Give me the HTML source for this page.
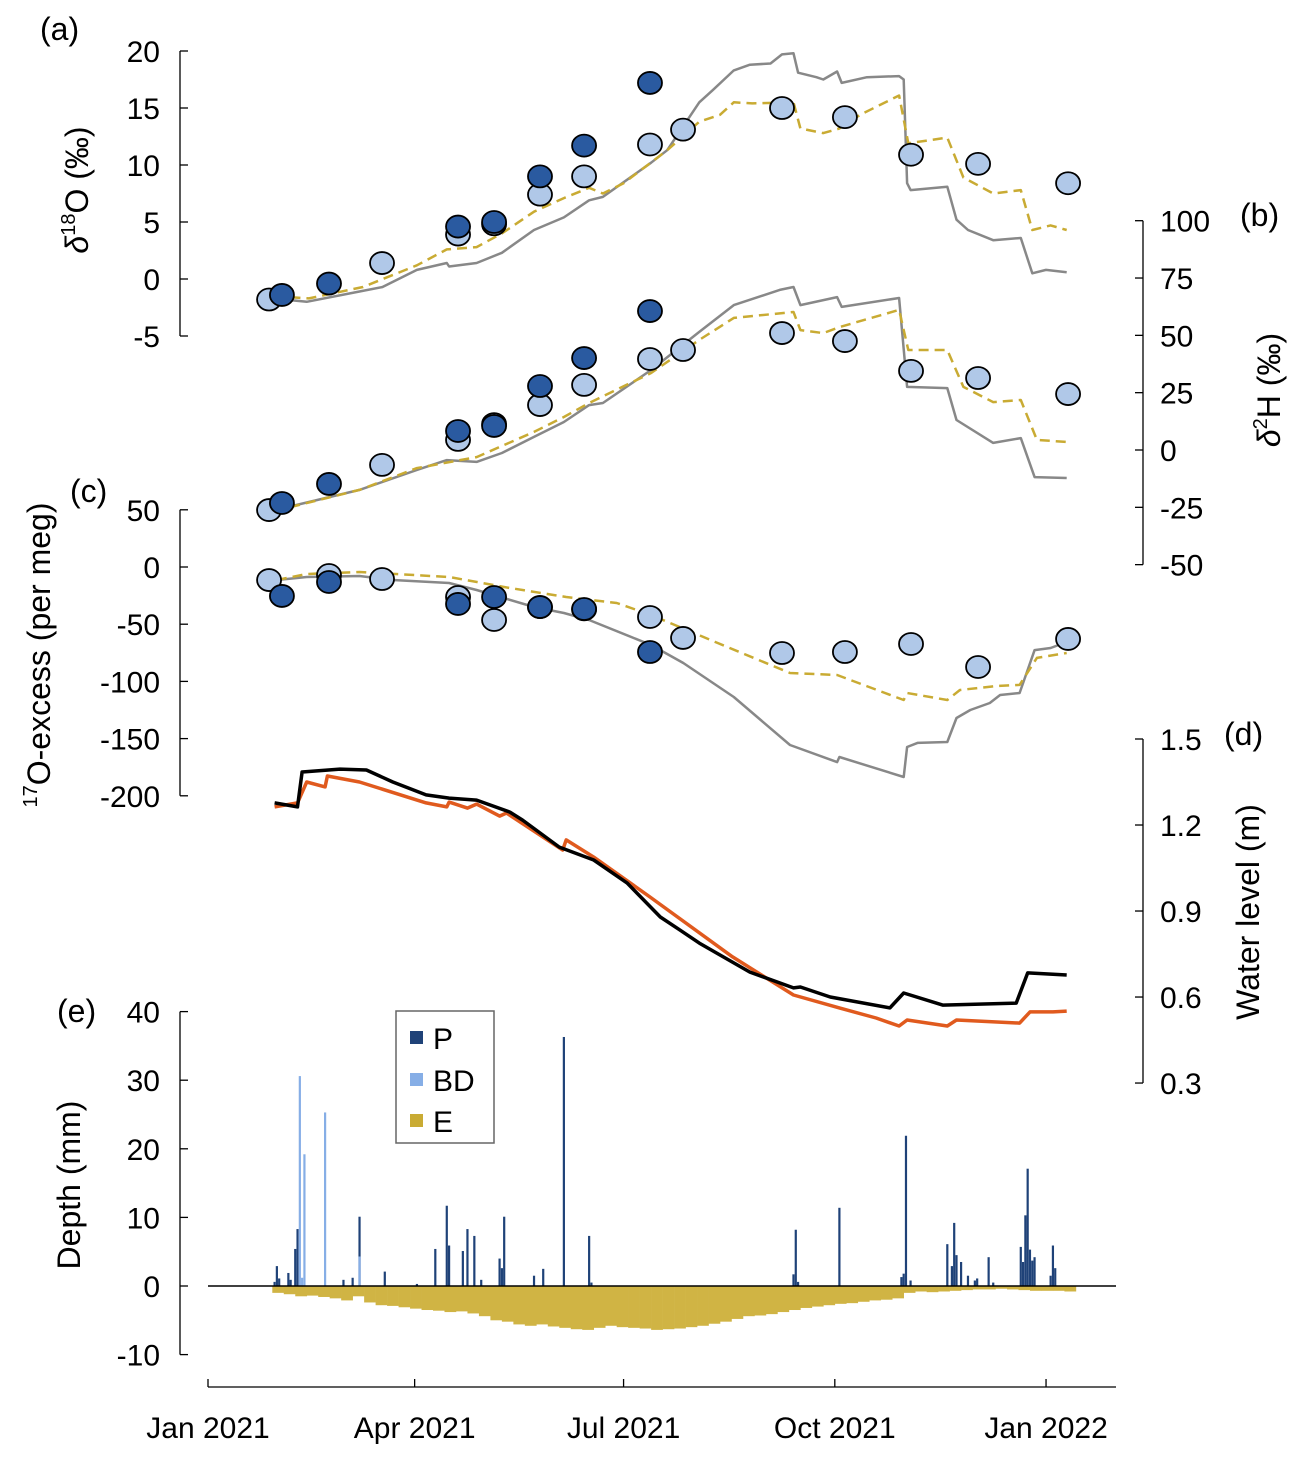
<!DOCTYPE html>
<html><head><meta charset="utf-8">
<style>
html,body{margin:0;padding:0;background:#fff;}
svg{display:block;font-family:"Liberation Sans",sans-serif;}
.tk{font-size:30px;fill:#000;}
.lb{font-size:32px;fill:#000;}
</style></head>
<body>
<svg id="chart" width="1301" height="1459" viewBox="0 0 1301 1459" xmlns="http://www.w3.org/2000/svg">
<g id="axes"></g>
<g id="bars"></g>
<g id="lines"></g>
<g id="marks"></g>
<g id="legend">
  <rect x="396" y="1011" width="98" height="132" fill="#fff" stroke="#666" stroke-width="1.5"/>
  <rect x="410" y="1031" width="13" height="13" fill="#1f4278"/>
  <text class="tk" x="433" y="1049">P</text>
  <rect x="410" y="1073" width="13" height="13" fill="#86aee6"/>
  <text class="tk" x="433" y="1091">BD</text>
  <rect x="410" y="1114" width="13" height="13" fill="#c9ab33"/>
  <text class="tk" x="433" y="1132">E</text>
</g>
<text class="lb" x="40" y="40" font-size="27">(a)</text>
<text class="lb" x="1240" y="226" font-size="27">(b)</text>
<text class="lb" x="70" y="502" font-size="27">(c)</text>
<text class="lb" x="1224" y="745" font-size="27">(d)</text>
<text class="lb" x="57" y="1022" font-size="27">(e)</text>
<text class="lb" transform="translate(88,190) rotate(-90)" text-anchor="middle"><tspan font-style="italic">δ</tspan><tspan font-size="20" dy="-13">18</tspan><tspan dy="13">O (‰)</tspan></text>
<text class="lb" transform="translate(1280,390) rotate(-90)" text-anchor="middle"><tspan font-style="italic">δ</tspan><tspan font-size="20" dy="-13">2</tspan><tspan dy="13">H (‰)</tspan></text>
<text class="lb" transform="translate(50,655) rotate(-90)" text-anchor="middle"><tspan font-size="20" dy="-13">17</tspan><tspan dy="13">O-excess (per meg)</tspan></text>
<text class="lb" transform="translate(1259,912) rotate(-90)" text-anchor="middle">Water level (m)</text>
<text class="lb" transform="translate(80,1185) rotate(-90)" text-anchor="middle">Depth (mm)</text>
</svg>
<script>
// ---- data ----
const xTickDays = [0, 90, 181, 273, 365];
const xTickLabels = ["Jan 2021", "Apr 2021", "Jul 2021", "Oct 2021", "Jan 2022"];
const ticksA = [20, 15, 10, 5, 0, -5];
const ticksB = [100, 75, 50, 25, 0, -25, -50];
const ticksC = [50, 0, -50, -100, -150, -200];
const ticksD = [1.5, 1.2, 0.9, 0.6, 0.3];
const ticksE = [40, 30, 20, 10, 0, -10];

const sampleDays = [26.6, 32.2, 52.7, 75.8, 108.9, 124.6, 144.6, 163.8, 192.5, 206.9, 250, 277.4, 306.2, 335.4, 374.6];
const lightA = [-1.8, null, null, 1.4, 3.9, 4.8, 7.4, 9.0, 11.8, 13.1, 15.0, 14.2, 10.9, 10.1, 8.4];
const darkA  = [null, -1.4, -0.4, null, 4.6, 5.0, 9.0, 11.7, 17.2, null, null, null, null, null, null];
const lightB = [-26.2, null, null, -6.5, 4.4, 11.3, 19.6, 28.4, 39.7, 43.6, 51.0, 47.5, 34.5, 31.4, 24.4];
const darkB  = [null, -23.1, -14.8, null, 8.3, 10.5, 27.9, 40.1, 60.6, null, null, null, null, null, null];
const lightC = [-11.4, null, -7.0, -10.5, -26.2, -46.3, -35.0, -37.0, -43.7, -62.0, -75.2, -74.3, -67.3, -87.4, -62.9];
const darkC  = [null, -25.3, -13.1, null, -32.3, -26.2, -35.0, -36.7, -74.3, null, null, null, null, null, null];

const grayADays = [29,33,43,66,76,91,104,105,117,128,142,155,166,172,193,200,214,220,229,236,245,250,255,257,265,268,274,276,287,301,303,304.5,306,322,326,331,342,354,359,365,374];
const grayAVals = [-1.5,-1.8,-2.0,-1.1,-0.7,0.8,1.4,1.1,1.4,2.3,4.3,5.4,6.9,7.2,10.2,11.3,15.5,16.6,18.3,18.8,18.9,19.7,19.8,18.1,17.7,17.5,18.2,17.2,17.7,17.8,17.5,8.4,7.8,8.1,5.2,4.3,3.4,3.6,0.5,0.8,0.6];
const goldADays = [29,36,44,67.5,91,104,117,128,142,155,166,172,181,200,214,223,229,237,255,258,268,275,284,301,305,322,329,342,354,359,367,374];
const goldAVals = [-1.4,-1.6,-1.7,-0.7,1.2,2.6,2.8,4.0,5.9,7.1,8.0,7.5,8.4,11.3,13.8,14.4,15.5,15.4,15.5,13.2,12.8,13.2,14.4,16.1,11.9,12.4,8.9,7.5,7.8,4.3,4.7,4.3];

const grayBDays = [29,33,66,91,104,117,128,142,155,166,172,193,214,229,249,255,258,274,276,301,304.5,322,326,342,354,360,374];
const grayBVals = [-26.6,-25.3,-17.4,-8.7,-4.4,-5.2,-1.3,5.7,12.2,19.6,20.5,34.9,51.5,63.2,69.8,71.1,63.2,66.7,62.4,66.3,27.5,27.0,13.1,3.1,5.2,-11.8,-12.2];
const goldBDays = [29,66,91,117,142,155,166,193,214,229,255,258,268,275,301,305,322,329,342,354,361,374];
const goldBVals = [-26.6,-17.4,-7.9,-3.1,7.9,14.4,20.5,33.6,48.0,57.6,60.2,52.3,51.0,53.6,61.1,43.6,43.6,27.5,20.9,21.8,4.4,3.5];

const grayCDays = [30,43,66,80.5,105,117,142,155,166,193,207,229,253.5,274,275,303,304.5,309,322,326,332,340.5,345,353.5,360,367,374];
const grayCVals = [-11.4,-8.7,-7.9,-11.4,-14.0,-20.1,-35.0,-40.2,-46.3,-68.2,-83.9,-113.6,-155.6,-170.5,-166.1,-183.6,-157.3,-153.8,-153.0,-132.0,-125.0,-118.9,-111.9,-110.1,-72.6,-70.8,-65.6];
const goldCDays = [30,43,66,105,131.5,156,178,193,222,253.5,274,303,304.5,322,327.5,343.5,353.5,361,374];
const goldCVals = [-11.4,-6.1,-4.4,-8.7,-18.4,-26.2,-31.5,-42.0,-66.4,-92.7,-94.4,-116.3,-110.1,-116.3,-107.5,-104.0,-103.1,-79.5,-75.2];

const levelObsDays = [29,39,41,57.5,69,80.5,95,105,117,131.5,137,153,168,182.5,197,205.5,214,236,255,258,271,297,303,320,352,357,374];
const levelObsVals = [1.277,1.263,1.385,1.395,1.392,1.350,1.305,1.294,1.287,1.245,1.217,1.123,1.078,0.998,0.879,0.834,0.788,0.687,0.632,0.635,0.600,0.562,0.614,0.572,0.579,0.684,0.677];
const levelModDays = [29,39,43,51,52,66,95,104,105,113,117,127,130,154.5,156,168,192.5,228.5,255,275,291,301,304.5,322,326,353.5,358,368,374];
const levelModVals = [1.263,1.277,1.350,1.333,1.371,1.350,1.277,1.263,1.280,1.259,1.273,1.231,1.242,1.113,1.148,1.088,0.949,0.740,0.607,0.562,0.527,0.499,0.520,0.499,0.520,0.509,0.548,0.548,0.551];

const pDays = [29,30,31,35,36,38,39,59,63,66,77,91,99,104,105,111,113,116,119,127,128,129,142,146,155,166,167,255,256,257,275,302,303,304,306,322,324,325,326,328,331,334,335,340,342,354,355,356,357,358,359,360,367,368,369];
const pVals = [0.6,2.9,1.1,1.9,0.9,5.4,8.3,0.9,1.2,10.1,2.1,0.3,5.4,11.7,5.9,5.1,8.3,7.3,0.9,4.0,2.6,10.1,1.5,2.5,36.3,7.3,0.5,1.7,8.2,0.6,11.4,1.3,1.8,21.9,0.8,6.1,2.9,9.2,4.5,3.5,1.5,0.8,1.1,4.2,0.5,5.7,3.5,10.3,17.1,5.3,3.7,4.2,1.5,5.9,2.6];
const bdDays = [40,41,42,51,66];
const bdVals = [30.6,1.2,19.2,25.3,4.3];

const eBinStart = 28;
const eVals = [-1.0,-1.2,-1.5,-1.4,-1.6,-1.8,-2.1,-1.5,-2.4,-2.8,-2.9,-3.1,-3.3,-3.5,-3.6,-3.8,-3.7,-4.0,-4.4,-5.0,-5.2,-5.6,-5.8,-5.6,-5.9,-6.1,-6.3,-6.4,-6.1,-5.8,-6.0,-6.1,-6.2,-6.4,-6.3,-6.2,-6.0,-5.8,-5.5,-5.2,-4.8,-4.4,-4.3,-4.1,-3.8,-3.5,-3.2,-3.0,-2.8,-2.6,-2.5,-2.3,-2.1,-2.0,-1.8,-1.0,-0.8,-0.9,-0.8,-0.7,-0.6,-0.5,-0.5,-0.4,-0.5,-0.6,-0.7,-0.7,-0.7,-0.8];
const eBinDays = 5;

// ---- scales ----
const NS = "http://www.w3.org/2000/svg";
function xs(d){ return 208 + d*2.296; }
function ya(v){ return 279 - 11.4*v; }
function yb(v){ return 450 - 2.293*v; }
function yc(v){ return 567 - 1.144*v; }
function yd(v){ return 739 + (1.5 - v)*286.7; }
function ye(v){ return 1286 - 6.86*v; }
function mk(tag, attrs, parent){
  const el = document.createElementNS(NS, tag);
  for (const k in attrs) el.setAttribute(k, attrs[k]);
  parent.appendChild(el);
  return el;
}
const axes = document.getElementById('axes');
const bars = document.getElementById('bars');
const lines = document.getElementById('lines');
const marks = document.getElementById('marks');

// ---- axes ----
function yAxis(name, x, ticks, scale, side){
  const vals = ticks.map(scale);
  const ln = mk('line', {x1:x, x2:x, y1:Math.min(...vals), y2:Math.max(...vals), stroke:'#000', 'stroke-width':1.3}, axes);
  
  
  ticks.forEach(t => {
    const y = scale(t);
    const tk = mk('line', {x1:x, x2:x + (side==='left' ? 8 : -8), y1:y, y2:y, stroke:'#000', 'stroke-width':1.3}, axes);
    
    
    const tx = mk('text', {x: side==='left' ? x-20 : x+17, y: y+11, 'text-anchor': side==='left' ? 'end' : 'start', class:'tk'}, axes);
    tx.textContent = String(t);
    
    
  });
}
yAxis('y-axis-a', 180, ticksA, ya, 'left');
yAxis('y-axis-b', 1143, ticksB, yb, 'right');
yAxis('y-axis-c', 180, ticksC, yc, 'left');
yAxis('y-axis-d', 1143, ticksD, yd, 'right');
yAxis('y-axis-e', 180, ticksE, ye, 'left');

const xl = mk('line', {x1:208, x2:1116, y1:1387, y2:1387, stroke:'#000', 'stroke-width':1.3}, axes);


xTickDays.forEach((d, i) => {
  const x = xs(d);
  const t = mk('line', {x1:x, x2:x, y1:1387, y2:1379, stroke:'#000', 'stroke-width':1.3}, axes);
  
  
  const tx = mk('text', {x:x, y:1438, 'text-anchor':'middle', class:'tk'}, axes);
  tx.textContent = xTickLabels[i];
  
  
});

// ---- bars (e) ----
eVals.forEach((v, i) => {
  const x0 = xs(eBinStart + i*eBinDays), x1 = xs(eBinStart + (i+1)*eBinDays);
  const r = mk('rect', {x:x0, y:ye(0), width:(x1-x0)+0.3, height:ye(v)-ye(0), fill:'#d0b444'}, bars);
  
  
});
pDays.forEach((d, i) => {
  const r = mk('rect', {x:xs(d)-1.1, y:ye(pVals[i]), width:2.2, height:ye(0)-ye(pVals[i]), fill:'#1f4278'}, bars);
  
  
});
bdDays.forEach((d, i) => {
  const r = mk('rect', {x:xs(d)-1.1, y:ye(bdVals[i]), width:2.2, height:ye(0)-ye(bdVals[i]), fill:'#86aee6'}, bars);
  
  
});
const zl = mk('line', {x1:208, x2:1116, y1:ye(0), y2:ye(0), stroke:'#000', 'stroke-width':1.6}, bars);



// ---- lines ----
function path(name, days, vals, scale, stroke, width, dash){
  const d = days.map((dd, i) => (i ? 'L' : 'M') + xs(dd).toFixed(1) + ',' + scale(vals[i]).toFixed(1)).join(' ');
  const p = mk('path', {d:d, fill:'none', stroke:stroke, 'stroke-width':width, 'stroke-linejoin':'round'}, lines);
  if (dash) p.setAttribute('stroke-dasharray', dash);
  
  
}
path('line-a-gray', grayADays, grayAVals, ya, '#888', 2.5);
path('line-a-gold', goldADays, goldAVals, ya, '#c9ab33', 2.5, '10,6');
path('line-b-gray', grayBDays, grayBVals, yb, '#888', 2.5);
path('line-b-gold', goldBDays, goldBVals, yb, '#c9ab33', 2.5, '10,6');
path('line-c-gray', grayCDays, grayCVals, yc, '#888', 2.5);
path('line-c-gold', goldCDays, goldCVals, yc, '#c9ab33', 2.5, '10,6');
path('line-d-modelled', levelModDays, levelModVals, yd, '#e05a1e', 3.5);
path('line-d-observed', levelObsDays, levelObsVals, yd, '#000', 3.5);

// ---- points ----
function pts(name, vals, scale, fill){
  vals.forEach((v, i) => {
    if (v === null) return;
    const c = mk('ellipse', {cx:xs(sampleDays[i]), cy:scale(v), rx:12, ry:11, fill:fill, stroke:'#000', 'stroke-width':1.8}, marks);
    
    
  });
}
pts('point-a-light', lightA, ya, '#b0c8e8');
pts('point-a-dark', darkA, ya, '#2a5aa0');
pts('point-b-light', lightB, yb, '#b0c8e8');
pts('point-b-dark', darkB, yb, '#2a5aa0');
pts('point-c-light', lightC, yc, '#b0c8e8');
pts('point-c-dark', darkC, yc, '#2a5aa0');
</script>
</body></html>
